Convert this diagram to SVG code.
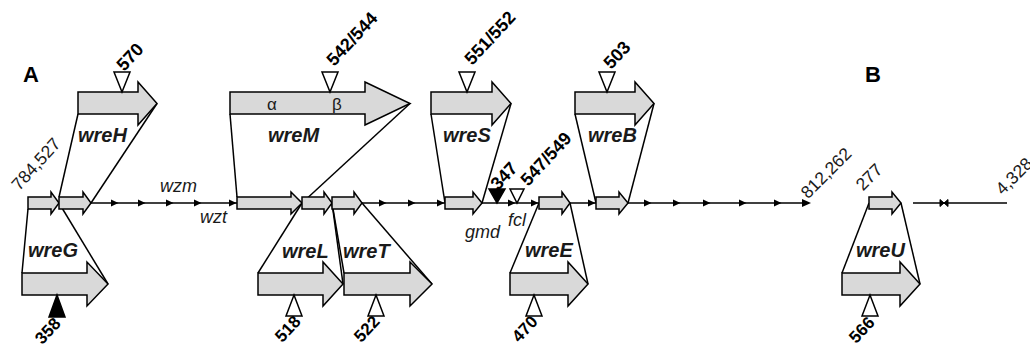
<svg xmlns="http://www.w3.org/2000/svg" width="1030" height="345" viewBox="0 0 1030 345">
<style>
.g{fill:#d9d9d9;stroke:#000;stroke-width:1.5;stroke-linejoin:miter}
.c line{stroke:#000;stroke-width:1.5}
.ax{stroke:#000;stroke-width:1.5}
.wt{fill:#fff;stroke:#000;stroke-width:1.5}
.bt{fill:#000;stroke:#000;stroke-width:1.5}
.gn{font-family:"Liberation Sans",Arial,sans-serif;font-weight:bold;font-style:italic;font-size:20px;fill:#1a1a1a}
.it{font-family:"Liberation Sans",Arial,sans-serif;font-style:italic;font-size:18px;fill:#1a1a1a}
.nb{font-family:"Liberation Sans",Arial,sans-serif;font-weight:bold;font-size:18px;fill:#000;text-anchor:middle;dominant-baseline:central}
.nbb{font-family:"Liberation Sans",Arial,sans-serif;font-weight:bold;font-size:17px;fill:#000;text-anchor:middle;dominant-baseline:central}
.nn{font-family:"Liberation Sans",Arial,sans-serif;font-size:17.5px;fill:#1a1a1a;text-anchor:middle;dominant-baseline:central}
.sec{font-family:"Liberation Sans",Arial,sans-serif;font-weight:bold;font-size:22px;fill:#000}
.gr{font-family:"Liberation Sans",Arial,sans-serif;font-size:17px;fill:#1a1a1a}
</style>
<defs>
<path id="ta" d="M-4,-3.5 L3.5,0 L-4,3.5Z" fill="#000"/>
</defs>

<text class="sec" x="23" y="82">A</text>
<text class="sec" x="865" y="82">B</text>

<g id="axis">
<line class="ax" x1="28" y1="203" x2="806" y2="203"/>
<path d="M802,199 L811,203 L802,207Z" fill="#000"/>
<use href="#ta" x="115" y="203"/>
<use href="#ta" x="142" y="203"/>
<use href="#ta" x="170" y="203"/>
<use href="#ta" x="198" y="203"/>
<use href="#ta" x="233" y="203"/>
<use href="#ta" x="383" y="203"/>
<use href="#ta" x="412" y="203"/>
<use href="#ta" x="441" y="203"/>
<use href="#ta" x="512" y="203"/>
<use href="#ta" x="535" y="203"/>
<use href="#ta" x="592" y="203"/>
<use href="#ta" x="648" y="203"/>
<use href="#ta" x="677" y="203"/>
<use href="#ta" x="707" y="203"/>
<use href="#ta" x="743" y="203"/>
<use href="#ta" x="778" y="203"/>
<line class="ax" x1="913" y1="203" x2="1007" y2="203"/>
<path d="M940,199.5 L944,203 L940,206.5Z M948,199.5 L944,203 L948,206.5Z" fill="#000" stroke="#000" stroke-width="1"/>
</g>

<g class="c" id="connectors">
<line x1="78" y1="114" x2="59" y2="197"/>
<line x1="157" y1="103.5" x2="91" y2="203"/>
<line x1="22" y1="273" x2="28" y2="209"/>
<line x1="108" y1="284" x2="59" y2="203"/>
<line x1="230" y1="114" x2="237" y2="197"/>
<line x1="410" y1="103.5" x2="302" y2="203"/>
<line x1="258" y1="273" x2="302" y2="203"/>
<line x1="343" y1="284" x2="332" y2="203"/>
<line x1="344" y1="273" x2="332" y2="203"/>
<line x1="432" y1="284" x2="362" y2="203"/>
<line x1="431" y1="114" x2="445" y2="203"/>
<line x1="511" y1="103.5" x2="482" y2="203"/>
<line x1="575" y1="114" x2="596" y2="203"/>
<line x1="654" y1="103.5" x2="628" y2="203"/>
<line x1="510" y1="273" x2="539" y2="203"/>
<line x1="588" y1="284" x2="570" y2="203"/>
<line x1="842" y1="273" x2="869" y2="203"/>
<line x1="920" y1="284" x2="901" y2="203"/>
</g>

<g id="small-genes">
<path class="g" d="M28,197 H51 V192 L59,203 L51,214 V209 H28 Z"/>
<path class="g" d="M59,197 H83 V192 L91,203 L83,214 V209 H59 Z"/>
<path class="g" d="M237,197 H291 V192 L302,203 L291,214 V209 H237 Z"/>
<path class="g" d="M302,197 H324 V192 L332,203 L324,214 V209 H302 Z"/>
<path class="g" d="M332,197 H354 V192 L362,203 L354,214 V209 H332 Z"/>
<path class="g" d="M445,197 H473 V192 L482,203 L473,214 V209 H445 Z"/>
<path class="g" d="M539,197 H562 V192 L570,203 L562,214 V209 H539 Z"/>
<path class="g" d="M596,197 H619 V192 L628,203 L619,214 V209 H596 Z"/>
<path class="g" d="M869,197 H892 V192 L901,203 L892,214 V209 H869 Z"/>
<path class="bt" d="M489,189 H505 L497,203 Z"/>
<path class="wt" d="M510,189 H524 L517,203 Z"/>
</g>
<text class="it" x="160" y="192">wzm</text>
<text class="it" x="200" y="223">wzt</text>
<text class="it" x="465" y="238">gmd</text>
<text class="it" x="508" y="226">fcl</text>

<g id="wreH">
<path class="g" d="M78,92 H138 V82 L157,103.5 L138,125 V114 H78 Z"/>
<path class="wt" d="M114,72 H130 L122,92 Z"/>
<text class="gn" x="78" y="142">wreH</text>
<text class="nb" transform="translate(130,57) rotate(-47)">570</text>
</g>

<g id="wreG">
<path class="g" d="M22,273 H87 V262 L108,284 L87,306 V295 H22 Z"/>
<path class="bt" d="M57,295 L65,317 H49 Z"/>
<text class="gn" x="28" y="257">wreG</text>
<text class="nbb" transform="translate(48,331) rotate(-47)">358</text>
</g>

<g id="wreM">
<path class="g" d="M230,92 H365 V82 L410,103.5 L365,125 V114 H230 Z"/>
<path class="wt" d="M322,72 H338 L330,92 Z"/>
<text class="gr" x="267" y="110">α</text>
<text class="gr" x="332" y="110">β</text>
<text class="gn" x="268" y="142">wreM</text>
<text class="nb" transform="translate(352,39) rotate(-47)">542/544</text>
</g>

<g id="wreL">
<path class="g" d="M258,273 H323 V262 L343,284 L323,306 V295 H258 Z"/>
<path class="wt" d="M294,295 L302,316 H286 Z"/>
<text class="gn" x="282" y="258">wreL</text>
<text class="nbb" transform="translate(288,329) rotate(-47)">518</text>
</g>

<g id="wreT">
<path class="g" d="M344,273 H410 V262 L432,284 L410,306 V295 H344 Z"/>
<path class="wt" d="M376,295 L384,316 H368 Z"/>
<text class="gn" x="343" y="258">wreT</text>
<text class="nbb" transform="translate(367,329) rotate(-47)">522</text>
</g>

<g id="wreS">
<path class="g" d="M431,92 H492 V82 L511,103.5 L492,125 V114 H431 Z"/>
<path class="wt" d="M459,72 H475 L467,92 Z"/>
<text class="gn" x="443" y="142">wreS</text>
<text class="nb" transform="translate(490,38) rotate(-47)">551/552</text>
</g>

<g id="site-347">
<text class="nb" transform="translate(504,176) rotate(-47)">347</text>
</g>
<g id="site-547">
<text class="nb" transform="translate(546,159) rotate(-47)">547/549</text>
</g>

<g id="wreB">
<path class="g" d="M575,92 H635 V82 L654,103.5 L635,125 V114 H575 Z"/>
<path class="wt" d="M599,72 H615 L607,92 Z"/>
<text class="gn" x="588" y="142">wreB</text>
<text class="nb" transform="translate(617,55) rotate(-47)">503</text>
</g>

<g id="wreE">
<path class="g" d="M510,273 H568 V262 L588,284 L568,306 V295 H510 Z"/>
<path class="wt" d="M534,295 L542,316 H526 Z"/>
<text class="gn" x="525" y="257">wreE</text>
<text class="nbb" transform="translate(525,329) rotate(-47)">470</text>
</g>

<g id="wreU">
<path class="g" d="M842,273 H900 V262 L920,284 L900,306 V295 H842 Z"/>
<path class="wt" d="M870,295 L878,316 H862 Z"/>
<text class="gn" x="856" y="257">wreU</text>
<text class="nbb" transform="translate(862,330) rotate(-47)">566</text>
</g>

<g id="coords">
<text class="nn" transform="translate(36,164) rotate(-48)">784,527</text>
<text class="nn" transform="translate(826,173) rotate(-45)">812,262</text>
<text class="nn" transform="translate(869,177) rotate(-45)">277</text>
<text class="nn" transform="translate(1014,176) rotate(-45)">4,328</text>
</g>
</svg>
